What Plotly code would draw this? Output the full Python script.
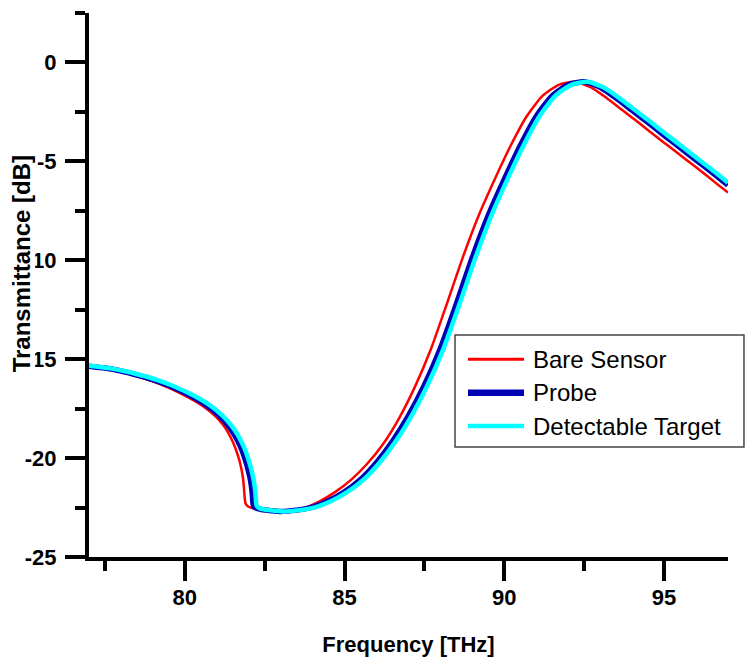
import plotly.graph_objects as go

# Transmittance spectra (frequency in THz, transmittance in dB)
bare_freq = [77.0, 77.5, 78.0, 78.5, 79.0, 79.5, 80.0, 80.4, 80.7, 81.0, 81.2, 81.35,
             81.5, 81.6, 81.7, 81.77, 81.82, 81.85, 81.87, 81.9, 81.98, 82.2, 82.6,
             83.0, 83.6, 84.2, 84.7, 85.2, 85.7, 86.2, 86.7, 87.2, 87.7, 88.2, 88.7,
             89.2, 89.7, 90.2, 90.7, 91.2, 91.7, 92.2, 92.7, 93.2, 93.7, 94.2, 94.7,
             95.2, 95.7, 96.2, 96.7, 97.0]
bare_db = [-15.37, -15.48, -15.64, -15.86, -16.12, -16.45, -16.84, -17.2, -17.53, -17.95,
           -18.33, -18.7, -19.17, -19.58, -20.08, -20.55, -21.02, -21.5, -21.95, -22.3,
           -22.45, -22.56, -22.64, -22.68, -22.6, -22.2, -21.72, -21.1, -20.3, -19.3,
           -18.0, -16.4, -14.5, -12.2, -9.85, -7.72, -5.9, -4.2, -2.72, -1.68, -1.13,
           -0.98, -1.25, -1.8, -2.42, -3.04, -3.68, -4.3, -4.93, -5.55, -6.2, -6.58]

probe_freq = [77.0, 77.5, 78.0, 78.5, 79.0, 79.5, 80.0, 80.4, 80.7, 81.0, 81.25, 81.45,
              81.6, 81.75, 81.85, 81.95, 82.03, 82.08, 82.11, 82.13, 82.15, 82.22, 82.4,
              82.7, 83.0, 83.5, 84.0, 84.5, 85.0, 85.5, 86.0, 86.5, 87.0, 87.5, 88.0,
              88.5, 89.0, 89.5, 90.0, 90.5, 91.0, 91.5, 92.0, 92.5, 93.0, 93.5, 94.0,
              94.5, 95.0, 95.5, 96.0, 96.5, 97.0]
probe_db = [-15.35, -15.45, -15.6, -15.8, -16.03, -16.33, -16.7, -17.04, -17.35, -17.74,
            -18.15, -18.56, -18.95, -19.45, -19.87, -20.4, -20.92, -21.38, -21.8, -22.25,
            -22.42, -22.52, -22.6, -22.66, -22.7, -22.63, -22.48, -22.16, -21.7, -21.08,
            -20.22, -19.15, -17.85, -16.3, -14.45, -12.2, -9.85, -7.72, -5.9, -4.2, -2.72,
            -1.68, -1.13, -0.98, -1.25, -1.8, -2.42, -3.04, -3.68, -4.3, -4.93, -5.55, -6.2]

target_freq = [77.0, 77.6, 78.1, 78.6, 79.1, 79.6, 80.1, 80.5, 80.8, 81.1, 81.35, 81.55,
               81.7, 81.85, 81.95, 82.05, 82.13, 82.18, 82.21, 82.23, 82.25, 82.32, 82.5,
               82.8, 83.1, 83.6, 84.1, 84.6, 85.1, 85.6, 86.1, 86.6, 87.1, 87.6, 88.1,
               88.6, 89.1, 89.6, 90.1, 90.6, 91.1, 91.6, 92.1, 92.6, 93.1, 93.6, 94.1,
               94.6, 95.1, 95.6, 96.1, 96.6, 97.0]
target_db = [-15.33, -15.45, -15.6, -15.8, -16.03, -16.33, -16.7, -17.04, -17.35, -17.74,
             -18.15, -18.56, -18.95, -19.45, -19.87, -20.4, -20.92, -21.38, -21.8, -22.25,
             -22.42, -22.52, -22.6, -22.66, -22.7, -22.63, -22.48, -22.16, -21.7, -21.08,
             -20.22, -19.15, -17.85, -16.3, -14.45, -12.2, -9.85, -7.72, -5.9, -4.2, -2.72,
             -1.68, -1.13, -0.98, -1.25, -1.8, -2.42, -3.04, -3.68, -4.3, -4.93, -5.55, -6.08]

series_names = ["Bare Sensor", "Probe", "Detectable Target"]
series_colors = ["#ff0000", "#0000b4", "#00ffff"]
series_widths = [2.5, 5.5, 4.5]

y_tick_vals = [-25, -20, -15, -10, -5, 0]
y_tick_text = ["-25", "-20", "-15", "-10", "-5", "0"]
x_tick_vals = [80, 85, 90, 95]
x_tick_text = ["80", "85", "90", "95"]

FONT = "Liberation Sans, Arial, sans-serif"

fig = go.Figure()
for name, fx, fy, col, w in zip(series_names,
                                [bare_freq, probe_freq, target_freq],
                                [bare_db, probe_db, target_db],
                                series_colors, series_widths):
    fig.add_trace(go.Scatter(x=fx, y=fy, mode="lines", name=name,
                             line=dict(color=col, width=w, shape="spline", smoothing=0.6),
                             showlegend=False))

axis_common = dict(
    showline=True, linecolor="black", linewidth=4, mirror=False,
    showgrid=False, zeroline=False, automargin=False,
    ticks="outside", ticklen=20, tickwidth=4, tickcolor="black",
    tickfont=dict(family=FONT, size=22, color="black", weight="bold"),
    tickmode="array",
)

fig.update_xaxes(**axis_common, range=[77, 97], tickvals=x_tick_vals, ticktext=x_tick_text,
                 minor=dict(tickmode="linear", tick0=77.5, dtick=5, ticklen=10,
                            tickwidth=4, tickcolor="black", ticks="outside"),
                 ticklabelstandoff=-2,
                 title=dict(text="Frequency [THz]", standoff=28,
                            font=dict(family=FONT, size=22, color="black", weight="bold")))
fig.update_yaxes(**axis_common, range=[-25, 2.5], tickvals=y_tick_vals, ticktext=y_tick_text,
                 minor=dict(tickmode="linear", tick0=-22.5, dtick=5, ticklen=10,
                            tickwidth=4, tickcolor="black", ticks="outside"),
                 ticklabelstandoff=4)

# y-axis title drawn as an annotation with a white backing
annotations = [dict(text="<b>Transmittance [dB]</b>", xref="paper", yref="paper",
                    x=-0.1064, y=0.538, xanchor="center", yanchor="middle",
                    textangle=-90, showarrow=False, bgcolor="white", borderpad=0,
                    font=dict(family=FONT, size=24, color="black"))]

# legend box with line samples
shapes = [dict(type="rect", xref="paper", yref="paper", x0=0.5728, x1=1.025,
               y0=0.2022, y1=0.4081, line=dict(color="#444444", width=1.5),
               fillcolor="white", layer="above")]
row_y = [0.3634, 0.3020, 0.2408]
legend_line_widths = [3, 6.5, 4.5]
for name, col, lw, ry in zip(series_names, series_colors, legend_line_widths, row_y):
    shapes.append(dict(type="line", xref="paper", yref="paper", x0=0.5931, x1=0.6808,
                       y0=ry, y1=ry, line=dict(color=col, width=lw), layer="above"))
    annotations.append(dict(text=name, xref="paper", yref="paper", x=0.6917, y=ry,
                            xanchor="left", yanchor="middle", showarrow=False,
                            font=dict(family=FONT, size=24, color="black")))

fig.update_layout(
    width=745, height=662,
    margin=dict(l=89, r=17, t=13, b=105),
    paper_bgcolor="white", plot_bgcolor="white",
    shapes=shapes, annotations=annotations,
    showlegend=False,
)

fig.write_html("out.html")
